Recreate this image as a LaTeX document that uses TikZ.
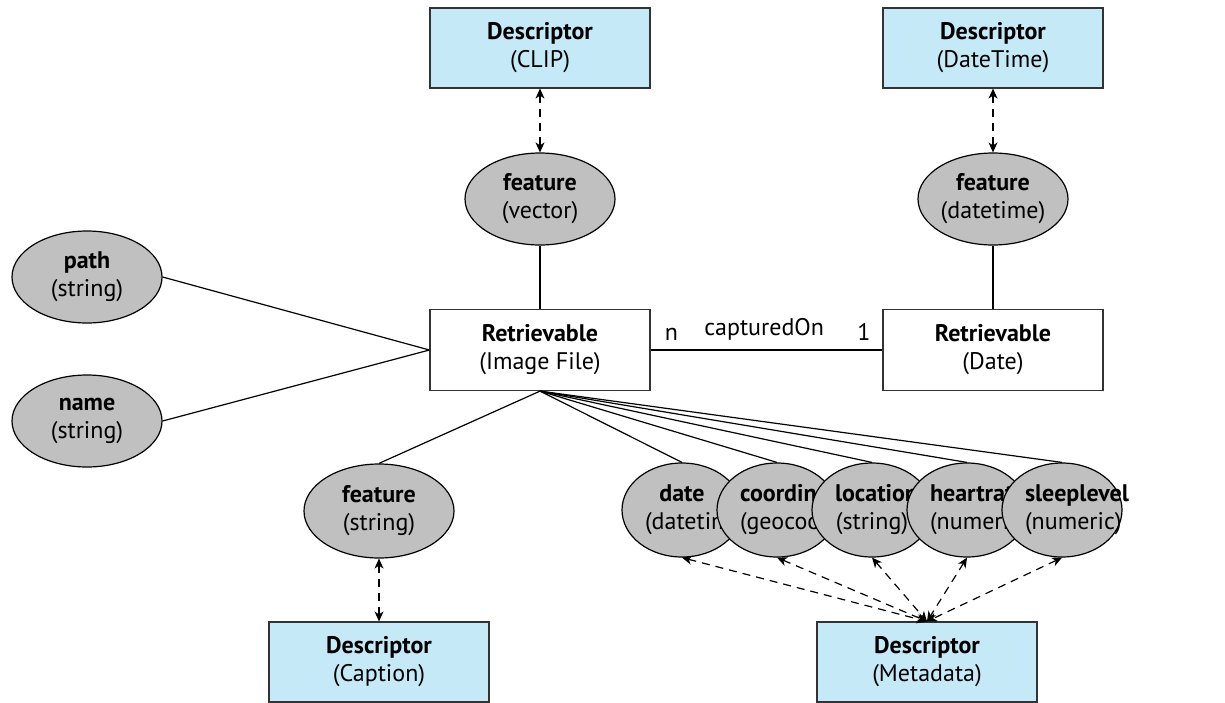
\documentclass[tikz,border=0pt]{standalone}
\usepackage{fontspec}
\setmainfont{PT Sans}
\usepackage{tikz}
\usetikzlibrary{arrows.meta,shapes.geometric}
\definecolor{descblue}{HTML}{C6E9F8}
\definecolor{attrgray}{HTML}{C0C0C0}
\newcommand{\attr}[2]{\makebox[0pt]{\textbf{#1}}\\\makebox[0pt]{(#2)}}

\begin{document}
\begin{tikzpicture}[x=0.5pt,y=-0.5pt,line width=0.6pt,
     every node/.style={font=\fontsize{12}{14}\selectfont},
     desc/.style={draw=black!80,fill=descblue,minimum width=110pt,
       minimum height=40pt,align=center,inner sep=0pt},
     entity/.style={draw=black!80,fill=white,minimum width=110pt,
       minimum height=40.5pt,align=center,inner sep=0pt},
     attrib/.style={draw,ellipse,fill=attrgray,minimum width=75pt,
       minimum height=46pt,align=center,inner sep=0pt},
     meta/.style={attrib,minimum width=60pt,minimum height=47pt,
       text width=37pt},
     link/.style={dashed,dash pattern=on 4pt off 3pt,
       {Stealth[length=5pt,width=4.5pt,inset=1.5pt]}-{Stealth[length=5pt,width=4.5pt,inset=1.5pt]}}]
    \useasboundingbox (0,0) rectangle (1225,702);
    \node[desc] (clipdesc) at (540,48) {\textbf{Descriptor}\\(CLIP)};
    \node[desc] (timedesc) at (993,48) {\textbf{Descriptor}\\(DateTime)};
    \node[attrib] (clipfeat) at (540,199) {\attr{feature}{vector}};
    \node[attrib] (timefeat) at (993,199) {\attr{feature}{datetime}};
    \node[attrib] (pathattr) at (87,277) {\attr{path}{string}};
    \node[attrib] (nameattr) at (87,421) {\attr{name}{string}};
    \node[entity] (img) at (540,350) {\textbf{Retrievable}\\(Image File)};
    \node[entity] (day) at (993,350) {\textbf{Retrievable}\\(Date)};
    \node[attrib,minimum height=47pt] (capfeat) at (379,511) {\attr{feature}{string}};
    \node[desc] (capdesc) at (379,662) {\textbf{Descriptor}\\(Caption)};
    \node[desc] (metadesc) at (927,662) {\textbf{Descriptor}\\(Metadata)};
    \node[meta] (mdate) at (682,510) {\textbf{date}\\(datetime)};
    \node[meta] (mcoord) at (777,510) {\textbf{coordinates}\\(geocoordinates)};
    \node[meta] (mloc) at (872,510) {\textbf{location}\\(string)};
    \node[meta] (mheart) at (967,510) {\textbf{heartrate}\\(numeric)};
    \node[meta] (msleep) at (1062,510) {\textbf{sleeplevel}\\(numeric)};
    \draw[link] (clipdesc) -- (clipfeat);
    \draw[link] (timedesc) -- (timefeat);
    \draw[link] (capfeat) -- (capdesc);
    \draw (clipfeat) -- (img);
    \draw (timefeat) -- (day);
    \draw (pathattr.east) -- (img.west);
    \draw (nameattr.east) -- (img.west);
    \draw (img) -- node[pos=0.09,above=1pt] {n}
      node[pos=0.49,above=1pt] {capturedOn}
      node[pos=0.92,above=1pt] {1} (day);
    \draw (img.south) -- (capfeat.north);
    \foreach \m in {mdate,mcoord,mloc,mheart,msleep} {
      \draw (img.south) -- (\m.north);
      \draw[link] (\m.south) -- (metadesc.north);
    }
  \end{tikzpicture}
\end{document}
